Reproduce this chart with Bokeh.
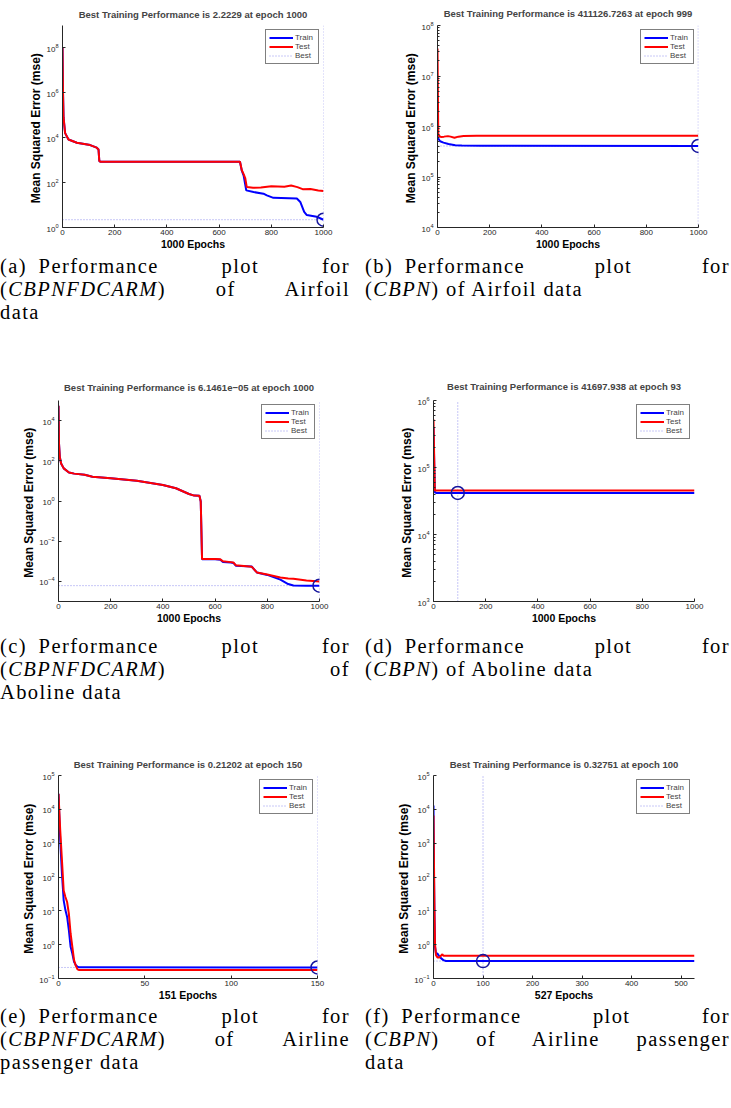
from bokeh.plotting import figure
from bokeh.models import Range1d, FixedTicker, Legend, LegendItem, Div
from bokeh.layouts import column, row
from bokeh.embed import file_html
from bokeh.resources import INLINE

# ---------------- data ----------------
# (a) CBPNFDCARM, Airfoil
a_title = "Best Training Performance is 2.2229 at epoch 1000"
a_xlabel = "1000 Epochs"
a_train_epoch = [0, 2, 4, 10, 23, 55, 106, 131, 138, 141, 145, 400, 680, 687, 694, 704, 732, 770, 783, 808, 898, 911, 926, 936, 974, 1000]
a_train_mse = [1.05e8, 1.0e6, 8.0e4, 1.6e4, 8.3e3, 6.0e3, 4.7e3, 3.6e3, 3.0e3, 930, 850, 850, 850, 340, 205, 45, 38, 32, 27, 21, 19.5, 13.8, 5.0, 3.6, 3.0, 2.2229]
a_test_epoch = [0, 2, 4, 10, 23, 55, 106, 131, 138, 141, 145, 400, 680, 687, 694, 700, 706, 730, 760, 800, 850, 876, 900, 920, 950, 980, 1000]
a_test_mse = [1.05e8, 1.0e6, 8.0e4, 1.6e4, 8.3e3, 6.0e3, 4.7e3, 3.6e3, 3.0e3, 930, 850, 850, 850, 355, 240, 160, 63, 59, 60, 69, 66, 74, 63, 51, 52, 45, 42]
a_best = (1000, 2.2229)
a_xlim = (0, 1000)
a_ylim = (1e0, 1e9)
a_xticks = [0, 200, 400, 600, 800, 1000]
a_yticks = [1e0, 1e2, 1e4, 1e6, 1e8]

# (b) CBPN, Airfoil
b_title = "Best Training Performance is 411126.7263 at epoch 999"
b_xlabel = "1000 Epochs"
b_train_epoch = [0, 1, 10, 23, 42, 68, 93, 170, 999]
b_train_mse = [3.0e6, 6.0e5, 5.1e5, 4.8e5, 4.5e5, 4.27e5, 4.2e5, 4.15e5, 411126.7263]
b_test_epoch = [0, 3, 5, 13, 25, 40, 50, 65, 80, 100, 150, 999]
b_test_mse = [3.5e7, 6.9e5, 6.6e5, 6.2e5, 6.3e5, 6.45e5, 6.3e5, 6.0e5, 6.3e5, 6.45e5, 6.55e5, 6.55e5]
b_best = (999, 411126.7263)
b_xlim = (0, 1000)
b_ylim = (1e4, 1e8)
b_xticks = [0, 200, 400, 600, 800, 1000]
b_yticks = [1e4, 1e5, 1e6, 1e7, 1e8]

# (c) CBPNFDCARM, Aboline
c_title = "Best Training Performance is 6.1461e\u221205 at epoch 1000"
c_xlabel = "1000 Epochs"
c_train_epoch = [0, 2, 5, 10, 20, 40, 60, 100, 130, 200, 300, 400, 450, 500, 520, 540, 545, 550, 555, 600, 620, 630, 660, 670, 680, 740, 760, 800, 850, 880, 900, 950, 1000]
c_train_mse = [5.5e4, 708, 155, 74, 42, 26, 23, 20.4, 16.2, 13.5, 10.2, 6.3, 4.3, 2.24, 1.86, 1.82, 0.95, 1.26e-3, 1.26e-3, 1.26e-3, 1.2e-3, 9.3e-4, 8.7e-4, 8.3e-4, 6.0e-4, 5.5e-4, 2.8e-4, 2.1e-4, 1.23e-4, 7.4e-5, 6.2e-5, 6.15e-5, 6.1461e-5]
c_test_epoch = [0, 2, 5, 10, 20, 40, 60, 100, 130, 200, 300, 400, 450, 500, 520, 540, 545, 550, 555, 600, 620, 630, 660, 670, 680, 740, 760, 800, 850, 880, 900, 950, 1000]
c_test_mse = [5.5e4, 708, 155, 74, 42, 26, 23, 20.4, 16.2, 13.5, 10.2, 6.3, 4.3, 2.24, 1.86, 1.82, 0.95, 1.3e-3, 1.3e-3, 1.3e-3, 1.25e-3, 1.0e-3, 9.1e-4, 8.7e-4, 6.3e-4, 5.4e-4, 2.8e-4, 2.2e-4, 1.58e-4, 1.41e-4, 1.35e-4, 1.1e-4, 9.8e-5]
c_best = (1000, 6.1461e-5)
c_xlim = (0, 1000)
c_ylim = (1e-5, 1e5)
c_xticks = [0, 200, 400, 600, 800, 1000]
c_yticks = [1e-4, 1e-2, 1e0, 1e2, 1e4]

# (d) CBPN, Aboline
d_title = "Best Training Performance is 41697.938 at epoch 93"
d_xlabel = "1000 Epochs"
d_train_epoch = [0, 5, 10, 93, 1000]
d_train_mse = [4.0e5, 4.3e4, 4.18e4, 41697.938, 41697.938]
d_test_epoch = [0, 5, 10, 1000]
d_test_mse = [5.2e5, 4.55e4, 4.54e4, 4.54e4]
d_best = (93, 41697.938)
d_xlim = (0, 1000)
d_ylim = (1e3, 1e6)
d_xticks = [0, 200, 400, 600, 800, 1000]
d_yticks = [1e3, 1e4, 1e5, 1e6]

# (e) CBPNFDCARM, Airline passenger
e_title = "Best Training Performance is 0.21202 at epoch 150"
e_xlabel = "151 Epochs"
e_train_epoch = [0, 1, 2, 3, 4, 5, 6, 7, 8, 9, 10, 11, 12, 150]
e_train_mse = [2.9e4, 1200, 126, 20.4, 10.5, 6.6, 2.7, 0.87, 0.55, 0.31, 0.25, 0.224, 0.214, 0.21202]
e_test_epoch = [0, 1, 2, 3, 4, 5, 6, 7, 8, 9, 10, 11, 12, 150]
e_test_mse = [2.9e4, 2400, 309, 40, 25.7, 18.2, 8.3, 2.14, 0.87, 0.35, 0.24, 0.186, 0.178, 0.178]
e_best = (150, 0.21202)
e_xlim = (0, 150)
e_ylim = (1e-1, 1e5)
e_xticks = [0, 50, 100, 150]
e_yticks = [1e-1, 1e0, 1e1, 1e2, 1e3, 1e4, 1e5]

# (f) CBPN, Airline passenger
f_title = "Best Training Performance is 0.32751 at epoch 100"
f_xlabel = "527 Epochs"
f_train_epoch = [0, 1, 2, 3, 5, 8, 10, 15, 20, 25, 527]
f_train_mse = [1.3e4, 126, 6.6, 0.87, 0.55, 0.55, 0.49, 0.40, 0.35, 0.33, 0.3275]
f_test_epoch = [0, 1, 2, 3, 5, 8, 12, 15, 18, 20, 25, 527]
f_test_mse = [6.6e3, 245, 8.3, 1.07, 0.49, 0.42, 0.42, 0.47, 0.52, 0.47, 0.47, 0.47]
f_best = (100, 0.32751)
f_xlim = (0, 527)
f_ylim = (1e-1, 1e5)
f_xticks = [0, 100, 200, 300, 400, 500]
f_yticks = [1e-1, 1e0, 1e1, 1e2, 1e3, 1e4, 1e5]

legend_labels = ["Train", "Test", "Best"]

cap_a = ["(a) Performance plot for", "(CBPNFDCARM) of Airfoil", "data"]
cap_b = ["(b) Performance plot for", "(CBPN) of Airfoil data"]
cap_c = ["(c) Performance plot for", "(CBPNFDCARM) of", "Aboline data"]
cap_d = ["(d) Performance plot for", "(CBPN) of Aboline data"]
cap_e = ["(e) Performance plot for", "(CBPNFDCARM) of Airline", "passenger data"]
cap_f = ["(f) Performance plot for", "(CBPN) of Airline passenger", "data"]

# ---------------- styling ----------------
SANS = "Liberation Sans"
TRAIN_C = "#0000ff"
TEST_C = "#ff0000"
BEST_C = "#9090ee"
CIRC_C = "#16169e"
AX_C = "#262626"


def minor_decades(lo, hi):
    out = []
    e = lo
    while e < hi:
        out += [k * e for k in range(2, 10)]
        e *= 10
    return out


def make_panel(title, xlabel, tx, ty, vx, vy, best, xlim, ylim, xticks, yticks,
               width, height, bl, br, bt, bb, tstand, minor=False):
    p = figure(width=width, height=height, x_range=Range1d(*xlim), y_range=Range1d(*ylim),
               y_axis_type="log", output_backend="svg", toolbar_location=None,
               min_border_left=bl, min_border_right=br, min_border_top=bt, min_border_bottom=bb,
               margin=(0, 0, 0, 0))
    p.outline_line_color = None
    p.grid.visible = False
    p.background_fill_color = "white"
    p.border_fill_color = "white"

    bx, byv = best
    p.line([xlim[0], bx], [byv, byv], line_color=BEST_C, line_width=1, line_dash="1 2")
    r_bv = p.line([bx, bx], [ylim[0], ylim[1]], line_color=BEST_C, line_width=1, line_dash="1 2")
    r_tr = p.line(tx, ty, line_color=TRAIN_C, line_width=2)
    r_te = p.line(vx, vy, line_color=TEST_C, line_width=2)
    p.scatter([bx], [byv], marker="circle", size=13, fill_color=None,
              line_color=CIRC_C, line_width=1.5)

    legend = Legend(items=[LegendItem(label=legend_labels[0], renderers=[r_tr]),
                           LegendItem(label=legend_labels[1], renderers=[r_te]),
                           LegendItem(label=legend_labels[2], renderers=[r_bv])],
                    location="top_right", margin=4, padding=3, spacing=0,
                    glyph_width=24, glyph_height=9, label_height=9, label_standoff=2,
                    label_text_font=SANS, label_text_font_size="8px",
                    border_line_color="black", border_line_width=1.5,
                    background_fill_color="white", background_fill_alpha=1.0)
    p.add_layout(legend)

    p.title.text = title
    p.title.align = "center"
    p.title.vertical_align = "middle"
    p.title.text_font = SANS
    p.title.text_font_size = "9.5px"
    p.title.text_font_style = "bold"
    p.title.standoff = tstand

    p.xaxis.ticker = FixedTicker(ticks=xticks)
    if minor:
        p.yaxis.ticker = FixedTicker(ticks=yticks, minor_ticks=minor_decades(ylim[0], ylim[1]))
    else:
        p.yaxis.ticker = FixedTicker(ticks=yticks)
    p.xaxis.axis_label = xlabel
    p.yaxis.axis_label = "Mean Squared Error  (mse)"
    for ax in (p.xaxis[0], p.yaxis[0]):
        ax.axis_line_color = AX_C
        ax.major_tick_line_color = AX_C
        ax.minor_tick_line_color = AX_C
        ax.major_tick_in = 3
        ax.major_tick_out = 0
        ax.minor_tick_in = 2
        ax.minor_tick_out = 0
        ax.major_label_text_font = SANS
        ax.major_label_text_font_size = "8px"
        ax.major_label_text_color = AX_C
        ax.axis_label_text_font = SANS
        ax.axis_label_text_font_style = "bold"
        ax.axis_label_text_color = "black"
    p.xaxis.minor_tick_line_color = None
    p.xaxis.axis_label_text_font_size = "10.5px"
    p.yaxis.axis_label_text_font_size = "12px"
    p.xaxis.major_label_standoff = 2
    p.xaxis.axis_label_standoff = 0
    p.yaxis.major_label_standoff = 4
    p.yaxis.axis_label_standoff = 0
    return p


def caption(lines, width, inner):
    parts = []
    for i, ln in enumerate(lines):
        t = ln
        for key in ("CBPNFDCARM", "CBPN"):
            if key in t:
                t = t.replace(key, '<i>' + key + '</i>', 1)
                break
        if i == 0:
            lab, first, rest = t.split(" ", 2)
            t = ('<span style="display:inline-block;">%s&ensp;%s</span> %s'
                 % (lab, first, rest))
        if i == len(lines) - 1:
            al = "text-align:left;"
        else:
            al = "text-align:justify;text-align-last:justify;"
        parts.append('<div style="%s white-space:nowrap;height:23px;">%s</div>' % (al, t))
    html = ('<div style="font-family:\'Liberation Serif\',serif;font-size:20.5px;'
            'letter-spacing:1.4px;line-height:23px;color:#000;width:%dpx;">%s</div>'
            % (inner, "".join(parts)))
    return Div(text=html, width=width, height=69, margin=(0, 0, 0, 0))


pa = make_panel(a_title, a_xlabel, a_train_epoch, a_train_mse, a_test_epoch, a_test_mse, a_best,
                a_xlim, a_ylim, a_xticks, a_yticks, 365, 255, 62, 42, 23, 27, 10)
pb = make_panel(b_title, b_xlabel, b_train_epoch, b_train_mse, b_test_epoch, b_test_mse, b_best,
                b_xlim, b_ylim, b_xticks, b_yticks, 366, 255, 72, 33, 24, 28, 12, minor=True)
pc = make_panel(c_title, c_xlabel, c_train_epoch, c_train_mse, c_test_epoch, c_test_mse, c_best,
                c_xlim, c_ylim, c_xticks, c_yticks, 365, 311, 58, 46, 75, 31, 14)
pd_ = make_panel(d_title, d_xlabel, d_train_epoch, d_train_mse, d_test_epoch, d_test_mse, d_best,
                 d_xlim, d_ylim, d_xticks, d_yticks, 366, 311, 68, 37, 76, 34, 16, minor=True)
pe = make_panel(e_title, e_xlabel, e_train_epoch, e_train_mse, e_test_epoch, e_test_mse, e_best,
                e_xlim, e_ylim, e_xticks, e_yticks, 365, 301, 58, 48, 71, 27, 10)
pf = make_panel(f_title, f_xlabel, f_train_epoch, f_train_mse, f_test_epoch, f_test_mse, f_best,
                f_xlim, f_ylim, f_xticks, f_yticks, 366, 301, 68, 37, 71, 27, 10)

layout = column(
    row(pa, pb, margin=(0, 0, 0, 0)),
    row(caption(cap_a, 365, 350), caption(cap_b, 366, 365), margin=(0, 0, 0, 0)),
    row(pc, pd_, margin=(0, 0, 0, 0)),
    row(caption(cap_c, 365, 350), caption(cap_d, 366, 365), margin=(0, 0, 0, 0)),
    row(pe, pf, margin=(0, 0, 0, 0)),
    row(caption(cap_e, 365, 350), caption(cap_f, 366, 365), margin=(0, 0, 0, 0)),
    margin=(0, 0, 0, 0),
)

open("out.html", "w").write(file_html(layout, INLINE))
